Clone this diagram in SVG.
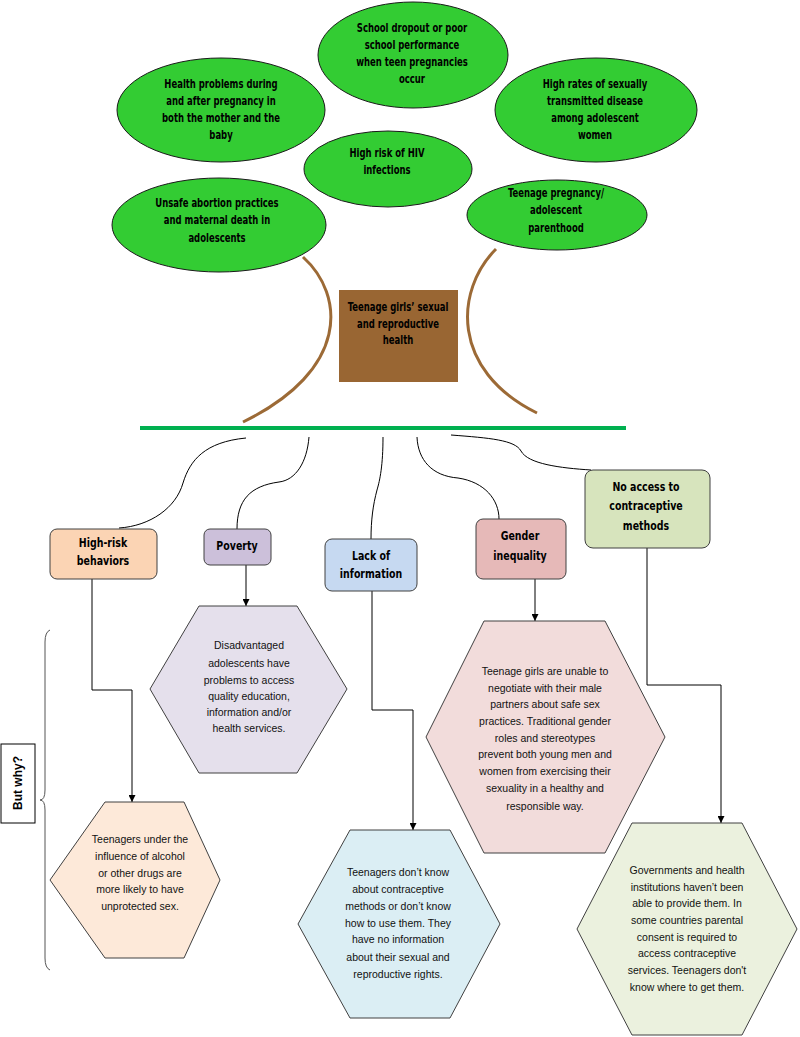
<svg xmlns="http://www.w3.org/2000/svg" width="800" height="1037" viewBox="0 0 800 1037">
<style>
.ell{fill:#33cc33;stroke:#1a1a1a;stroke-width:1}
.bt{font-family:"DejaVu Sans Condensed","Liberation Sans",sans-serif;font-weight:bold;fill:#000;text-anchor:middle}
.et{font-size:11.5px}
.lt{font-size:12.5px}
.ht{font-family:"Liberation Sans",Arial,sans-serif;font-size:10.5px;fill:#111;text-anchor:middle}
.box{stroke:#404040;stroke-width:1}
.hex{stroke:#404040;stroke-width:1}
.con{fill:none;stroke:#000;stroke-width:1}
.arc{fill:none;stroke:#9c6a36;stroke-width:3}
</style>
<defs>
<marker id="ah" viewBox="0 0 10 10" refX="10" refY="5" markerWidth="7" markerHeight="7" markerUnits="userSpaceOnUse" orient="auto">
<path d="M0,0 L10,5 L0,10 z" fill="#000"/>
</marker>
</defs>
<rect width="800" height="1037" fill="#fff"/>

<g id="trunk">
<path class="arc" d="M303,257 C345,295 350,370 243,422"/>
<path class="arc" d="M496,249 C455,290 450,370 537,413"/>
<line x1="140" y1="428" x2="626" y2="428" stroke="#00b050" stroke-width="4"/>
</g>

<g id="e-school">
<ellipse class="ell" cx="413" cy="55" rx="95" ry="53"/>
<text class="bt et" transform="translate(412,0) scale(0.82,1)"><tspan x="0" y="32">School dropout or poor</tspan><tspan x="0" y="49">school performance</tspan><tspan x="0" y="66">when teen pregnancies</tspan><tspan x="0" y="83">occur</tspan></text>
</g>
<g id="e-health">
<ellipse class="ell" cx="221" cy="110" rx="104" ry="52"/>
<text class="bt et" transform="translate(221,0) scale(0.82,1)"><tspan x="0" y="88">Health problems during</tspan><tspan x="0" y="105">and after pregnancy in</tspan><tspan x="0" y="122">both the mother and the</tspan><tspan x="0" y="139">baby</tspan></text>
</g>
<g id="e-std">
<ellipse class="ell" cx="596" cy="110" rx="101" ry="52"/>
<text class="bt et" transform="translate(595,0) scale(0.82,1)"><tspan x="0" y="88">High rates of sexually</tspan><tspan x="0" y="105">transmitted disease</tspan><tspan x="0" y="122">among adolescent</tspan><tspan x="0" y="139">women</tspan></text>
</g>
<g id="e-hiv">
<ellipse class="ell" cx="388" cy="169" rx="84" ry="38"/>
<text class="bt et" transform="translate(387,0) scale(0.82,1)"><tspan x="0" y="157">High risk of HIV</tspan><tspan x="0" y="174">infections</tspan></text>
</g>
<g id="e-abortion">
<ellipse class="ell" cx="219" cy="225" rx="107" ry="47"/>
<text class="bt et" transform="translate(217,0) scale(0.82,1)"><tspan x="0" y="207">Unsafe abortion practices</tspan><tspan x="0" y="224">and maternal death in</tspan><tspan x="0" y="242">adolescents</tspan></text>
</g>
<g id="e-pregnancy">
<ellipse class="ell" cx="557" cy="215" rx="90" ry="35"/>
<text class="bt et" transform="translate(556,0) scale(0.82,1)"><tspan x="0" y="197">Teenage pregnancy/</tspan><tspan x="0" y="214">adolescent</tspan><tspan x="0" y="232">parenthood</tspan></text>
</g>

<g id="center">
<rect x="339" y="290" width="119" height="92" fill="#996633"/>
<text class="bt et" transform="translate(398,0) scale(0.82,1)"><tspan x="0" y="311">Teenage girls’ sexual</tspan><tspan x="0" y="328">and reproductive</tspan><tspan x="0" y="344">health</tspan></text>
</g>

<g id="connectors">
<path class="con" d="M246,438 C205,442 190,460 183,483 C176,508 150,526 119,528"/>
<path class="con" d="M309,437 C307,462 296,480 279,482 C250,486 237,500 237,529"/>
<path class="con" d="M383,437 C383,465 380,480 377,490 C373,505 371,520 371,539"/>
<path class="con" d="M417,437 C418,460 432,476 458,478 C485,482 499,500 499,519"/>
<path class="con" d="M451,435 C490,438 515,440 521,451 C528,464 560,468 591,470"/>
<path class="con" marker-end="url(#ah)" d="M92,579 V690 H132 V802"/>
<path class="con" marker-end="url(#ah)" d="M246,565 V606"/>
<path class="con" marker-end="url(#ah)" d="M372,591 V710 H413 V830"/>
<path class="con" marker-end="url(#ah)" d="M535,579 V621"/>
<path class="con" marker-end="url(#ah)" d="M647,548 V685 H721 V823"/>
</g>

<g id="b-highrisk">
<rect class="box" x="50" y="529" width="107" height="50" rx="7" fill="#fbd4b4"/>
<text class="bt lt" transform="translate(103,0) scale(0.84,1)"><tspan x="0" y="547">High-risk</tspan><tspan x="0" y="565">behaviors</tspan></text>
</g>
<g id="b-poverty">
<rect class="box" x="204" y="529" width="67" height="36" rx="6" fill="#ccc0da"/>
<text class="bt lt" transform="translate(237,0) scale(0.84,1)" x="0" y="550">Poverty</text>
</g>
<g id="b-lack">
<rect class="box" x="325" y="539" width="92" height="52" rx="7" fill="#c6d9f1"/>
<text class="bt lt" transform="translate(371,0) scale(0.84,1)"><tspan x="0" y="560">Lack of</tspan><tspan x="0" y="578">information</tspan></text>
</g>
<g id="b-gender">
<rect class="box" x="476" y="519" width="90" height="60" rx="7" fill="#e6b9b8"/>
<text class="bt lt" transform="translate(520,0) scale(0.84,1)"><tspan x="0" y="540">Gender</tspan><tspan x="0" y="560">inequality</tspan></text>
</g>
<g id="b-noaccess">
<rect class="box" x="585" y="470" width="125" height="78" rx="8" fill="#d7e4bd"/>
<text class="bt lt" transform="translate(646,0) scale(0.84,1)"><tspan x="0" y="491">No access to</tspan><tspan x="0" y="510">contraceptive</tspan><tspan x="0" y="530">methods</tspan></text>
</g>

<g id="h-poverty">
<polygon class="hex" points="199,606 297,606 347,689 297,773 199,773 150,689" fill="#e5e0ec"/>
<text class="ht"><tspan x="249" y="649">Disadvantaged</tspan><tspan x="249" y="667">adolescents have</tspan><tspan x="249" y="684">problems to access</tspan><tspan x="249" y="700">quality education,</tspan><tspan x="249" y="716">information and/or</tspan><tspan x="249" y="732">health services.</tspan></text>
</g>
<g id="h-gender">
<polygon class="hex" points="484,621 605,621 665,737 605,853 484,853 426,737" fill="#f2dcdb"/>
<text class="ht"><tspan x="545" y="675">Teenage girls are unable to</tspan><tspan x="545" y="692">negotiate with their male</tspan><tspan x="545" y="708">partners about safe sex</tspan><tspan x="545" y="725">practices. Traditional gender</tspan><tspan x="545" y="742">roles and stereotypes</tspan><tspan x="545" y="758">prevent both young men and</tspan><tspan x="545" y="775">women from exercising their</tspan><tspan x="545" y="792">sexuality in a healthy and</tspan><tspan x="545" y="810">responsible way.</tspan></text>
</g>
<g id="h-highrisk">
<polygon class="hex" points="105,802 184,802 220,880 184,958 105,958 50,880" fill="#fde9d9"/>
<text class="ht"><tspan x="140" y="843">Teenagers under the</tspan><tspan x="140" y="860">influence of alcohol</tspan><tspan x="140" y="877">or other drugs are</tspan><tspan x="140" y="893">more likely to have</tspan><tspan x="140" y="910">unprotected sex.</tspan></text>
</g>
<g id="h-lack">
<polygon class="hex" points="350,830 450,830 500,924 450,1018 350,1018 298,924" fill="#dbeef4"/>
<text class="ht"><tspan x="398" y="876">Teenagers don’t know</tspan><tspan x="398" y="893">about contraceptive</tspan><tspan x="398" y="910">methods or don’t know</tspan><tspan x="398" y="927">how to use them. They</tspan><tspan x="398" y="943">have no information</tspan><tspan x="398" y="961">about their sexual and</tspan><tspan x="398" y="978">reproductive rights.</tspan></text>
</g>
<g id="h-noaccess">
<polygon class="hex" points="632,823 742,823 797,929 742,1035 632,1035 577,929" fill="#ebf1de"/>
<text class="ht"><tspan x="687" y="874">Governments and health</tspan><tspan x="687" y="891">institutions haven’t been</tspan><tspan x="687" y="907">able to provide them.  In</tspan><tspan x="687" y="924">some countries parental</tspan><tspan x="687" y="941">consent is required to</tspan><tspan x="687" y="957">access contraceptive</tspan><tspan x="687" y="974">services. Teenagers don't</tspan><tspan x="687" y="991">know where to get them.</tspan></text>
</g>

<g id="butwhy">
<path d="M50,630 Q45,632 45,642 V790 Q45,800 40,800 Q45,800 45,810 V958 Q45,968 50,970" fill="none" stroke="#555" stroke-width="1"/>
<rect x="1" y="744" width="34" height="79" fill="#fff" stroke="#000" stroke-width="1"/>
<text transform="translate(22,783) rotate(-90)" font-family="Liberation Sans,Arial,sans-serif" font-weight="bold" font-size="12" text-anchor="middle">But why?</text>
</g>
</svg>
